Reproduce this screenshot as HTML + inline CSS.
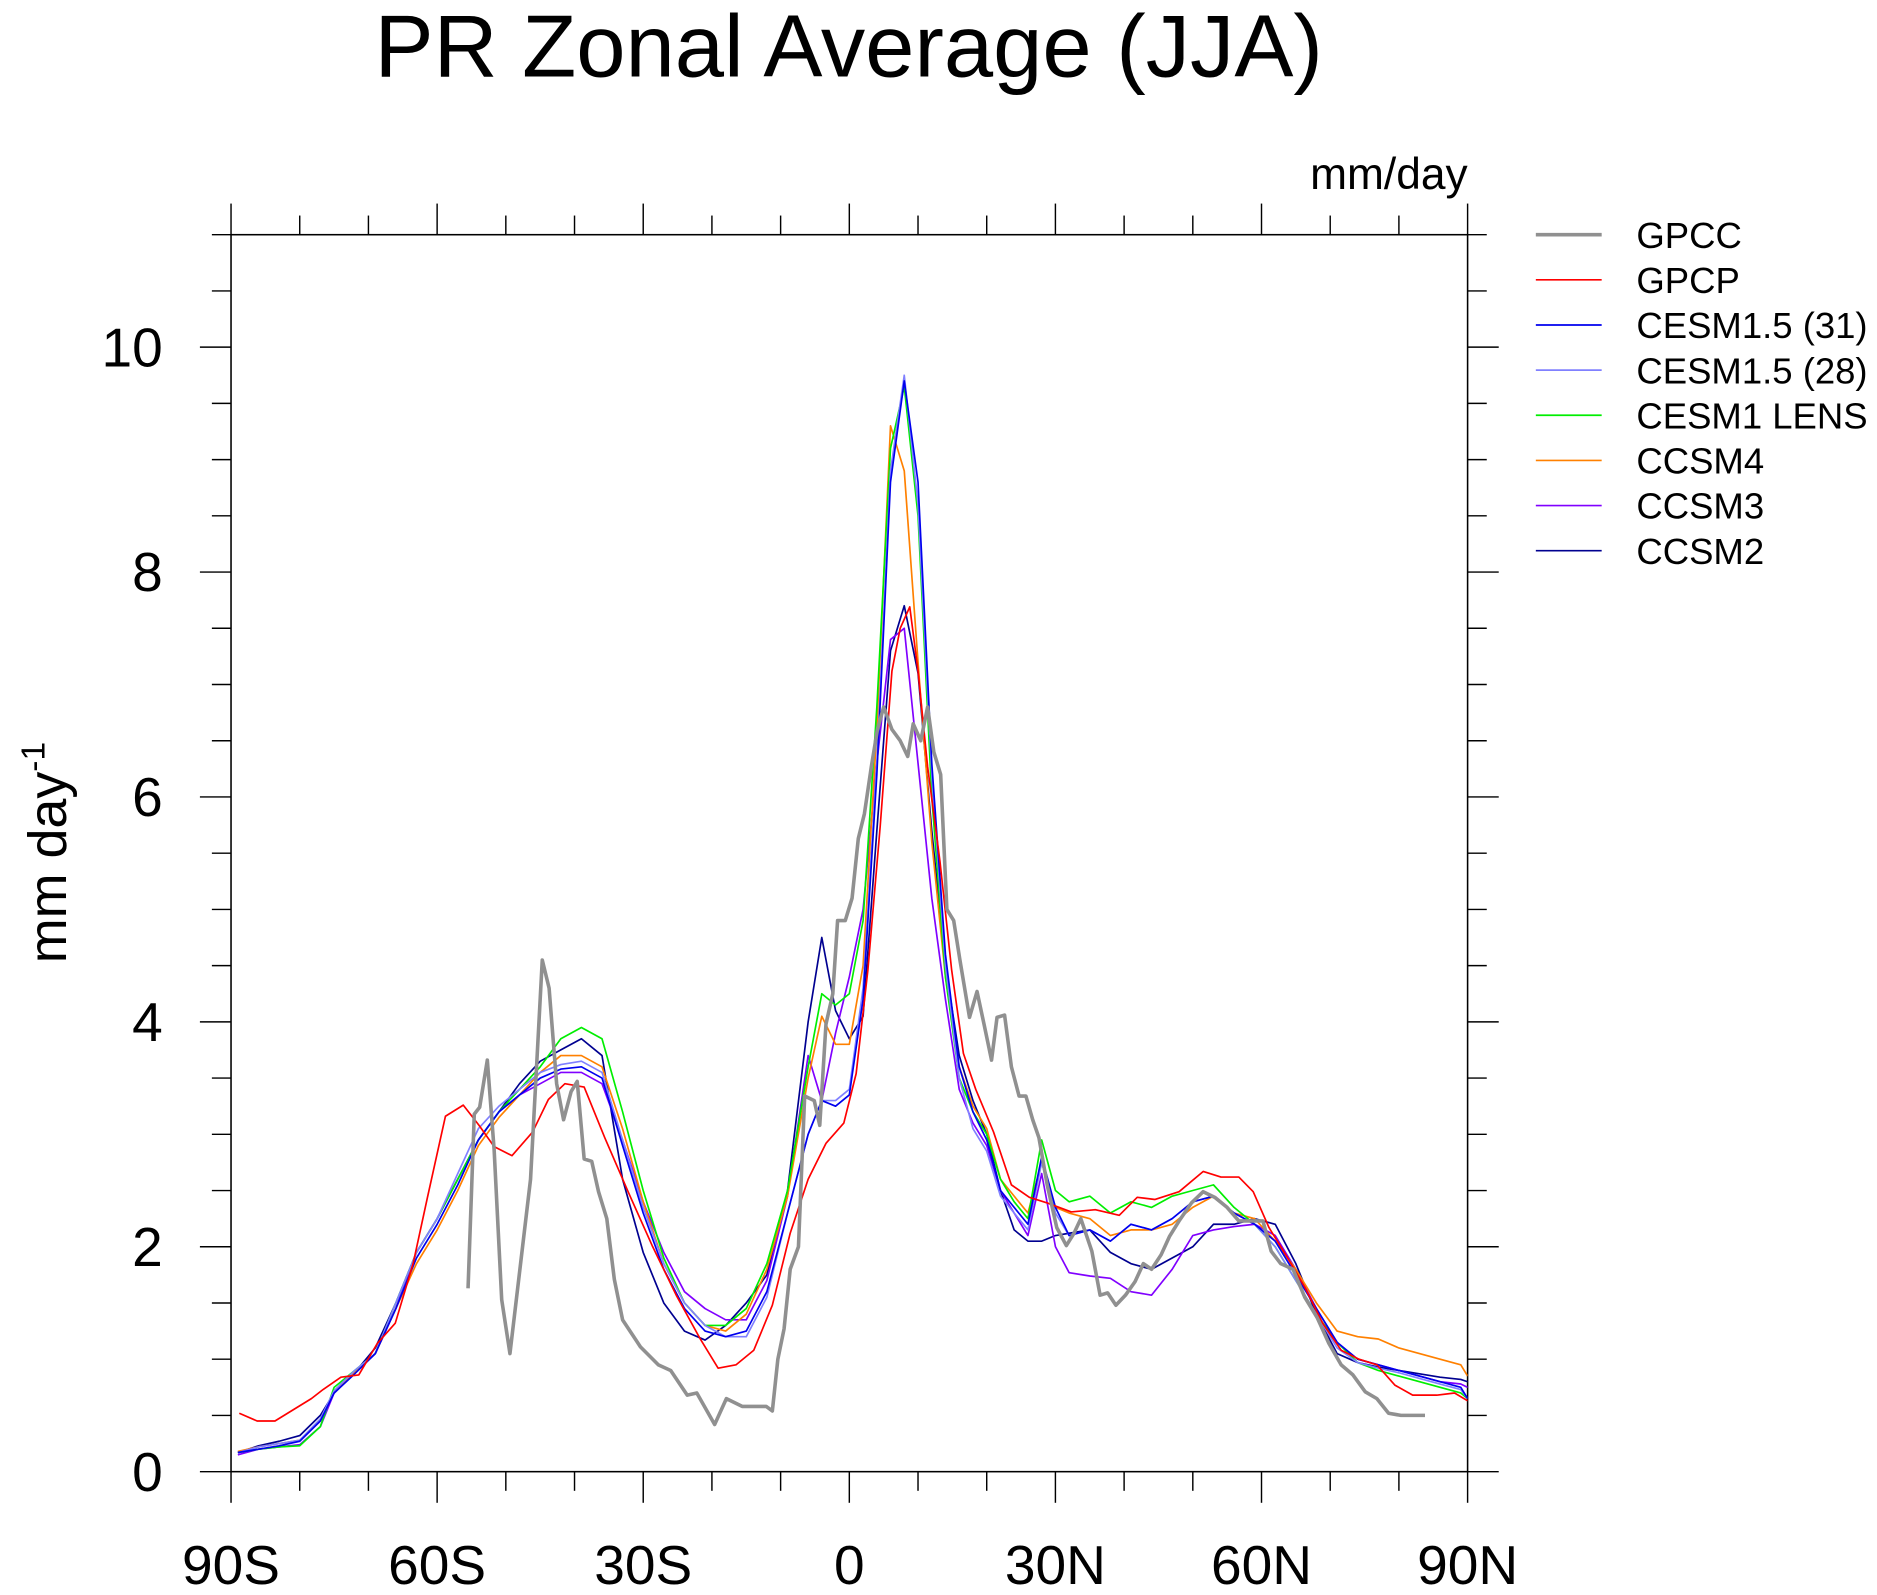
<!DOCTYPE html>
<html><head><meta charset="utf-8"><style>
html,body{margin:0;padding:0;background:#fff;}
svg{display:block;font-family:"Liberation Sans",Arial,sans-serif;}
</style></head><body>
<svg id="chart" width="1877" height="1595" viewBox="0 0 1568 1332" preserveAspectRatio="none" xmlns="http://www.w3.org/2000/svg">
<rect width="1568" height="1332" fill="#fff"/>
<text x="709" y="64" font-size="74" text-anchor="middle">PR Zonal Average (JJA)</text>
<text x="1226" y="158" font-size="37" text-anchor="end">mm/day</text>
<text transform="translate(55,712) rotate(-90)" font-size="45" text-anchor="middle">mm day<tspan dy="-18" font-size="28">-1</tspan></text>
<g id="axes"></g>
<g id="series" clip-path="url(#clip)"></g>
<defs><clipPath id="clip"><rect x="193" y="196" width="1033" height="1033"/></clipPath></defs>
<g id="legend"></g>
</svg>
<script>
// ---- data ----
const seriesNames = ["GPCC","GPCP","CESM1.5 (31)","CESM1.5 (28)","CESM1 LENS","CCSM4","CCSM3","CCSM2"];
const seriesColors = ["#909090","#ff0000","#0000ee","#8080ff","#00ee00","#ff8000","#8000ff","#000090"];
const xTickLabels = ["90S","60S","30S","0","30N","60N","90N"];
const xTickValues = [-90,-60,-30,0,30,60,90];
const yTickValues = [0,2,4,6,8,10];

const gpccLat = [-55.5,-54.6,-53.8,-52.7,-51.7,-50.6,-49.4,-46.4,-44.7,-43.7,-42.6,-41.6,-40.5,-39.6,-38.6,-37.5,-36.5,-35.3,-34.2,-33,-30.4,-27.8,-26,-23.6,-22.2,-19.6,-17.9,-15.6,-12.1,-11.2,-10.4,-9.5,-8.6,-7.4,-6.5,-5.1,-4.3,-3.4,-2.4,-1.7,-0.6,0.4,1.3,2.2,3.2,4.1,5,6.2,7.4,8.5,9.3,10.4,11.4,12.3,13.3,14.2,15.2,16.1,17.5,18.6,19.6,20.7,21.5,22.6,23.6,24.7,25.7,26.7,27.6,28.8,30.2,31.6,32.7,33.7,35.3,36.5,37.6,38.8,40.2,41.6,42.8,44,45.4,46.6,48,49.8,51.5,53.2,55,56.7,58.5,60.2,61.4,62.8,64.6,66.3,68.1,69.8,71.6,73.3,75.1,76.8,78.5,80.3,82,83.8];
const gpccVal = [1.63,3.18,3.24,3.66,2.86,1.53,1.05,2.6,4.55,4.3,3.45,3.13,3.38,3.47,2.78,2.76,2.49,2.25,1.71,1.35,1.11,0.95,0.9,0.68,0.7,0.42,0.65,0.58,0.58,0.54,1.0,1.27,1.8,2.0,3.34,3.3,3.08,3.98,4.25,4.9,4.9,5.1,5.63,5.85,6.27,6.6,6.8,6.6,6.5,6.36,6.65,6.5,6.8,6.4,6.2,5.0,4.9,4.55,4.04,4.27,3.98,3.66,4.04,4.06,3.6,3.34,3.34,3.13,2.97,2.55,2.17,2.01,2.12,2.25,1.96,1.57,1.59,1.48,1.57,1.69,1.85,1.8,1.93,2.09,2.23,2.39,2.49,2.44,2.35,2.23,2.23,2.23,1.96,1.85,1.8,1.55,1.37,1.14,0.95,0.86,0.71,0.65,0.52,0.5,0.5,0.5];

const gpcpLat = [-88.8,-86.2,-83.6,-78.3,-76.6,-74,-71.4,-68.7,-66.1,-63.5,-61.4,-58.8,-56.2,-53.9,-51.7,-49.1,-46.1,-43.8,-41.4,-38.6,-35.6,-32.2,-28.7,-25.2,-21.7,-19.1,-16.5,-13.9,-11.2,-8.6,-6,-3.4,-0.8,1,2.7,4.5,6.2,7.4,8.8,10,11.4,13.2,14.9,16.6,18.4,21,23.6,26.2,28.8,32.3,35.8,39.3,41.9,44.5,48,51.5,54.1,56.7,58.8,61.1,63.7,66.3,68.9,71.6,74.2,76.8,79.4,82,85.5,88.1,90];
const gpcpVal = [0.52,0.45,0.45,0.65,0.73,0.84,0.86,1.14,1.32,1.85,2.44,3.16,3.26,3.08,2.89,2.81,3.02,3.31,3.45,3.42,2.97,2.49,2.01,1.57,1.18,0.92,0.95,1.08,1.48,2.12,2.6,2.92,3.1,3.54,4.46,5.74,7.12,7.5,7.69,7.12,6.27,5.42,4.46,3.72,3.4,3.02,2.55,2.44,2.39,2.31,2.33,2.28,2.44,2.42,2.49,2.67,2.62,2.62,2.49,2.17,1.91,1.64,1.32,1.08,1.0,0.95,0.77,0.68,0.68,0.7,0.63];

const modelLat = [-89,-86,-83,-80,-77,-75,-72,-69,-66,-63,-60,-57,-54,-51,-48,-45,-42,-39,-36,-33,-30,-27,-24,-21,-18,-15,-12,-9,-6,-4,-2,0,2,4,6,8,10,12,14,16,18,20,22,24,26,28,30,32,35,38,41,44,47,50,53,56,59,62,65,68,71,74,77,80,83,86,89,90];
const cesm31Val = [0.17,0.2,0.23,0.27,0.45,0.7,0.87,1.05,1.45,1.9,2.2,2.55,2.95,3.2,3.35,3.5,3.58,3.6,3.5,2.9,2.3,1.8,1.45,1.25,1.2,1.25,1.6,2.3,3.0,3.3,3.25,3.35,4.2,6.2,8.8,9.7,8.8,6.3,4.6,3.6,3.2,2.95,2.5,2.35,2.2,2.8,2.35,2.1,2.15,2.05,2.2,2.15,2.25,2.4,2.45,2.3,2.2,2.05,1.75,1.45,1.15,1.0,0.95,0.9,0.85,0.8,0.75,0.65];
const cesm28Val = [0.17,0.22,0.25,0.28,0.47,0.72,0.9,1.05,1.5,1.95,2.25,2.65,3.05,3.25,3.4,3.55,3.62,3.65,3.55,2.95,2.35,1.85,1.5,1.3,1.2,1.2,1.55,2.3,3.0,3.3,3.3,3.4,4.3,6.3,8.9,9.75,8.6,6.2,4.5,3.5,3.05,2.85,2.45,2.3,2.15,2.75,2.3,2.1,2.15,2.05,2.2,2.15,2.25,2.4,2.45,2.3,2.2,2.0,1.7,1.4,1.1,0.97,0.92,0.88,0.83,0.78,0.73,0.65];
const lensVal = [0.17,0.2,0.22,0.23,0.4,0.75,0.9,1.05,1.5,1.95,2.25,2.6,2.95,3.2,3.4,3.6,3.85,3.95,3.85,3.2,2.5,1.9,1.5,1.3,1.3,1.45,1.85,2.5,3.6,4.25,4.15,4.25,4.9,6.8,9.1,9.65,8.5,6.0,4.4,3.5,3.2,3.0,2.6,2.4,2.25,2.95,2.5,2.4,2.45,2.3,2.4,2.35,2.45,2.5,2.55,2.35,2.2,2.0,1.7,1.4,1.15,0.97,0.9,0.85,0.8,0.75,0.7,0.65];
const ccsm4Val = [0.18,0.22,0.25,0.28,0.45,0.72,0.88,1.05,1.45,1.85,2.15,2.5,2.9,3.15,3.35,3.55,3.7,3.7,3.6,3.05,2.4,1.85,1.5,1.3,1.25,1.4,1.8,2.45,3.5,4.05,3.8,3.8,4.5,6.6,9.3,8.9,7.2,5.6,4.4,3.6,3.25,3.05,2.6,2.45,2.3,2.75,2.35,2.3,2.25,2.1,2.15,2.15,2.2,2.35,2.45,2.3,2.25,2.05,1.8,1.5,1.25,1.2,1.18,1.1,1.05,1.0,0.95,0.85];
const ccsm3Val = [0.15,0.2,0.22,0.24,0.4,0.7,0.88,1.05,1.45,1.95,2.25,2.6,2.95,3.2,3.35,3.45,3.55,3.55,3.45,2.95,2.4,1.95,1.6,1.45,1.35,1.35,1.7,2.45,3.7,3.3,3.9,4.4,5.0,6.3,7.4,7.5,6.3,5.1,4.2,3.4,3.1,2.9,2.5,2.3,2.1,2.65,2.0,1.77,1.74,1.72,1.6,1.57,1.8,2.1,2.15,2.18,2.2,2.1,1.8,1.45,1.15,1.0,0.95,0.9,0.85,0.8,0.78,0.75];
const ccsm2Val = [0.17,0.23,0.27,0.32,0.5,0.7,0.88,1.1,1.5,1.95,2.25,2.6,2.95,3.2,3.45,3.65,3.75,3.85,3.7,2.6,1.95,1.5,1.25,1.17,1.3,1.5,1.75,2.5,4.0,4.75,4.1,3.85,4.05,5.7,7.3,7.7,7.1,5.7,4.5,3.7,3.3,3.0,2.5,2.15,2.05,2.05,2.1,2.12,2.15,1.95,1.85,1.8,1.9,2.0,2.2,2.2,2.25,2.2,1.85,1.4,1.05,0.97,0.93,0.9,0.87,0.84,0.82,0.8];

const seriesLat = [gpccLat,gpcpLat,modelLat,modelLat,modelLat,modelLat,modelLat,modelLat];
const seriesVal = [gpccVal,gpcpVal,cesm31Val,cesm28Val,lensVal,ccsm4Val,ccsm3Val,ccsm2Val];

// ---- axes ----
const X0=193,X1=1226,Y0=1229,Y1=196,YMAX=11;
function xs(lat){return X0+(lat+90)/180*(X1-X0);}
function ys(v){return Y0-v/YMAX*(Y0-Y1);}
const NS="http://www.w3.org/2000/svg";
function mk(tag,attrs,parent){const e=document.createElementNS(NS,tag);for(const k in attrs)e.setAttribute(k,attrs[k]);parent.appendChild(e);return e;}
const axes=document.getElementById('axes');
const frame=mk('rect',{x:X0,y:Y1,width:X1-X0,height:Y0-Y1,fill:'none',stroke:'#000','stroke-width':1.3},axes);


for(let lat=-90;lat<=90;lat+=10){
  const major=lat%30===0, L=major?26:16, x=xs(lat);
  const t1=mk('line',{x1:x,y1:Y0,x2:x,y2:Y0+L,stroke:'#000','stroke-width':1.2},axes);
  
  
  const t2=mk('line',{x1:x,y1:Y1,x2:x,y2:Y1-L,stroke:'#000','stroke-width':1.2},axes);
  
  
}
xTickValues.forEach((v,i)=>{
  const t=mk('text',{x:xs(v),y:1323,'font-size':46,'text-anchor':'middle'},axes);
  t.textContent=xTickLabels[i];
  
  
});
for(let v=0;v<=YMAX+1e-9;v+=0.5){
  const major=Math.abs(v%2)<1e-9, L=major?26:16, y=ys(v);
  const t1=mk('line',{x1:X0,y1:y,x2:X0-L,y2:y,stroke:'#000','stroke-width':1.2},axes);
  
  
  const t2=mk('line',{x1:X1,y1:y,x2:X1+L,y2:y,stroke:'#000','stroke-width':1.2},axes);
  
  
}
yTickValues.forEach(v=>{
  const t=mk('text',{x:136,y:ys(v)+16,'font-size':46,'text-anchor':'end'},axes);
  t.textContent=String(v);
  
  
});

// ---- series ----
const sg=document.getElementById('series');
for(let s=seriesNames.length-1;s>=0;s--){
  const pts=seriesLat[s].map((lat,i)=>xs(lat).toFixed(1)+','+ys(seriesVal[s][i]).toFixed(1)).join(' ');
  const p=mk('polyline',{points:pts,fill:'none',stroke:seriesColors[s],'stroke-width':s===0?3:1.4,'stroke-linejoin':'round'},sg);
  
  
}

// ---- legend ----
const lg=document.getElementById('legend');
seriesNames.forEach((n,i)=>{
  const y=196+i*37.7;
  const g=mk('g',{},lg);
  
  
  mk('line',{x1:1283,y1:y,x2:1338,y2:y,stroke:seriesColors[i],'stroke-width':i===0?3:1.4},g);
  const t=mk('text',{x:1367,y:y+11,'font-size':30.5},g);
  t.textContent=n;
});
</script>
</body></html>
